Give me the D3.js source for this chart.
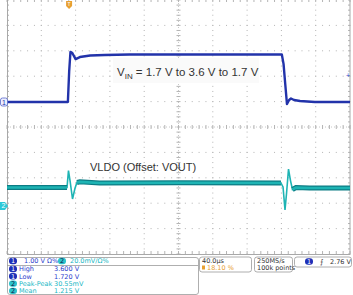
<!DOCTYPE html>
<html>
<head>
<meta charset="utf-8">
<script src="https://cdn.jsdelivr.net/npm/d3@7"></script>
<style>
body { margin: 0; background: #fff; }
text { font-family: "Liberation Sans", Arial, sans-serif; }
.small { font-family: "DejaVu Sans", sans-serif; font-size: 6.5px; }
</style>
</head>
<body>
<div></div>
<script>
// scope capture: 40 us/div, ch1 1.00 V/div, ch2 20.0 mV/div
var width = 353,
    height = 295;

// ch1 (VIN) trace: time in us, volts
var ch1Time = [0, 71, 72.5, 74, 76, 80, 85, 97, 114, 143, 320.5, 322.5, 324.5, 326.5, 329, 331.2, 334.7, 341.7, 359, 400];
var ch1Volt = [1.70, 1.70, 2.9, 3.67, 3.64, 3.39, 3.47, 3.53, 3.55, 3.57, 3.57, 3.2, 2.4, 1.62, 1.78, 1.84, 1.78, 1.74, 1.70, 1.70];

// ch2 (VLDO, ac offset) trace: time in us, mV above ch2 marker
var ch2Time = [0, 70, 71.7, 73.5, 76.4, 79.3, 81.6, 85, 108, 200, 319.5, 321.9, 324.2, 326, 328.3, 330.6, 332.9, 337, 353, 400];
var ch2mV = [14.6, 14.6, 27.8, 20, 5.5, 14, 18.5, 19, 18.1, 18.3, 18.1, 15, -3.1, 10, 29.1, 20, 13, 14.5, 14.2, 14.2];

var trigLevel = 2.76; // V
var trigPos = 72.4;   // us (18.10 %)
var ch1Offset = 1.7, ch2Offset = 0;

var measLabels = ["High", "Low", "Peak-Peak", "Mean"];
var measValues = ["3.600 V", "1.720 V", "30.55mV", "1.215 V"];
var measChan = [1, 1, 2, 2];

var blue = "#2233aa", teal = "#1eb4b4", tealDark = "#0c7c84", grid = "#b4b4b4";

var x = d3.scaleLinear().domain([0, 400]).range([7, 350]);
var y1 = d3.scaleLinear().domain([-4.284, 5.716]).range([254, 0]);
var y2 = d3.scaleLinear().domain([-37.8, 162.2]).range([254, 0]);

var svg = d3.select("div").append("svg")
    .attr("width", width)
    .attr("height", height);

svg.append("rect").attr("width", width).attr("height", height).attr("fill", "#fff");

// graticule
var g = svg.append("g");
var divs = d3.range(0, 11);
var minor = d3.range(0, 51);
var gx = divs.map(function (i) { return x(i * 40); });
var gy = divs.map(function (i) { return 254 * i / 10; });

gx.forEach(function (px, i) {
    if (i == 0 || i == 10 || i == 5) return;
    g.selectAll(null).data(minor).enter().append("rect")
        .attr("x", px - 0.5).attr("y", function (k) { return 254 * k / 50 - 0.5; })
        .attr("width", 1).attr("height", 1).attr("fill", grid);
});
gy.forEach(function (py, i) {
    if (i == 0 || i == 10 || i == 5) return;
    g.selectAll(null).data(minor).enter().append("rect")
        .attr("x", function (k) { return 7 + 343 * k / 50 - 0.5; }).attr("y", py - 0.5)
        .attr("width", 1).attr("height", 1).attr("fill", grid);
});

// centre lines and border with minor ticks
g.append("line").attr("x1", 7).attr("x2", 350).attr("y1", 127).attr("y2", 127)
    .attr("stroke", "#c8c8c8").attr("stroke-dasharray", "1,2");
g.append("line").attr("x1", x(200)).attr("x2", x(200)).attr("y1", 0).attr("y2", 254)
    .attr("stroke", "#c8c8c8").attr("stroke-dasharray", "1,2");
minor.forEach(function (k) {
    var px = 7 + 343 * k / 50, py = 254 * k / 50;
    g.append("line").attr("x1", px).attr("x2", px).attr("y1", 125).attr("y2", 129).attr("stroke", grid);
    g.append("line").attr("x1", x(200) - 2).attr("x2", x(200) + 2).attr("y1", py).attr("y2", py).attr("stroke", grid);
    g.append("line").attr("x1", px).attr("x2", px).attr("y1", 251).attr("y2", 254).attr("stroke", grid);
    g.append("line").attr("x1", px).attr("x2", px).attr("y1", 0).attr("y2", 2).attr("stroke", grid);
    g.append("line").attr("x1", 7).attr("x2", 9).attr("y1", py).attr("y2", py).attr("stroke", grid);
    g.append("line").attr("x1", 348).attr("x2", 350).attr("y1", py).attr("y2", py).attr("stroke", grid);
});
g.append("rect").attr("x", 7.5).attr("y", -1).attr("width", 342.5).attr("height", 255.5)
    .attr("fill", "none").attr("stroke", "#a8a8a8");

// annotations
svg.append("rect").attr("x", 113).attr("y", 58).attr("width", 146).attr("height", 25).attr("fill", "#fafafa");
var vin = svg.append("text").attr("x", 117).attr("y", 76).attr("font-size", "11.5px").attr("fill", "#333");
vin.append("tspan").text("V");
vin.append("tspan").attr("dy", 3).attr("font-size", "8px").text("IN");
vin.append("tspan").attr("dy", -3).text(" = 1.7 V to 3.6 V to 1.7 V");

svg.append("text").attr("x", 90).attr("y", 171).attr("font-size", "11px").attr("fill", "#333")
    .text("VLDO (Offset: VOUT)");

// traces
var line1 = d3.line().x(function (d) { return x(d[0]); }).y(function (d) { return y1(d[1]); });
var line2 = d3.line().x(function (d) { return x(d[0]); }).y(function (d) { return y2(d[1]); });

var ch1 = ch1Time.map(function (t, i) { return [t, ch1Volt[i]]; });
var ch2 = ch2Time.map(function (t, i) { return [t, ch2mV[i]]; });

svg.append("path").datum(ch1).attr("d", line1).attr("fill", "none")
    .attr("stroke", blue).attr("stroke-width", 2.4).attr("stroke-linejoin", "round");

svg.append("path").datum(ch2).attr("d", line2).attr("fill", "none")
    .attr("stroke", teal).attr("stroke-width", 1.6);
// noise band on the flat parts
var bands = [ch2.filter(function (d) { return d[0] <= 70; }),
             ch2.filter(function (d) { return d[0] >= 81.6 && d[0] <= 319.5; }),
             ch2.filter(function (d) { return d[0] >= 332.9; })];
bands.forEach(function (b) {
    svg.append("path").datum(b).attr("d", line2).attr("fill", "none")
        .attr("stroke", tealDark).attr("stroke-width", 5);
    svg.append("path").datum(b).attr("d", line2).attr("fill", "none")
        .attr("stroke", teal).attr("stroke-width", 2.6);
});

// markers
var m1 = svg.append("g").attr("transform", "translate(0," + y1(ch1Offset) + ")");
m1.append("rect").attr("x", 0.5).attr("y", -4).attr("width", 7).attr("height", 8).attr("rx", 2)
    .attr("fill", "#eef0ff").attr("stroke", "#5566cc").attr("stroke-width", 0.8);
m1.append("text").attr("x", 4).attr("y", 3).attr("text-anchor", "middle").attr("font-size", "7px")
    .attr("fill", blue).text("1");

var m2 = svg.append("g").attr("transform", "translate(0," + y2(ch2Offset) + ")");
m2.append("path").attr("d", "M0,-4H5L8,0L5,4H0Z").attr("fill", "#2cc8d8");
m2.append("text").attr("x", 3.5).attr("y", 2.5).attr("text-anchor", "middle").attr("font-size", "7px")
    .attr("fill", "#fff").text("2");

var mt = svg.append("g").attr("transform", "translate(" + x(trigPos) + ",0)");
mt.append("path").attr("d", "M-3,1H3V6L0,9L-3,6Z").attr("fill", "#e8a030");
mt.append("text").attr("x", 0).attr("y", 6).attr("text-anchor", "middle").attr("font-size", "5px")
    .attr("fill", "#fff").text("T");

svg.append("text").attr("x", 348).attr("y", y1(trigLevel) + 2.5).attr("text-anchor", "middle")
    .attr("font-size", "7px").attr("fill", "#3344cc").text("+");

// readout panel
function box(x0, y0, w, h) {
    svg.append("rect").attr("x", x0 + 0.5).attr("y", y0 + 0.5).attr("width", w).attr("height", h)
        .attr("rx", 2.5).attr("fill", "#fff").attr("stroke", "#9a9a9a").attr("stroke-width", 0.8);
}
function pill(px, py, n) {
    svg.append("rect").attr("x", px).attr("y", py - 3.2).attr("width", 8).attr("height", 6.4).attr("rx", 3)
        .attr("fill", n == 1 ? "#1f2fb8" : "#2cc4cc");
    svg.append("text").attr("class", "small").attr("x", px + 4).attr("y", py + 2.3)
        .attr("text-anchor", "middle").attr("fill", n == 1 ? "#fff" : "#114").text(n);
}

box(7, 257, 191, 37);
svg.append("line").attr("x1", 7).attr("x2", 198).attr("y1", 265.5).attr("y2", 265.5).attr("stroke", "#9a9a9a").attr("stroke-width", 0.8);
pill(9, 261, 1);
svg.append("text").attr("class", "small").attr("x", 24).attr("y", 263.3).attr("fill", "#2a3ccc").text("1.00 V  Ω%");
pill(58, 261, 2);
svg.append("text").attr("class", "small").attr("x", 70).attr("y", 263.3).attr("fill", "#20b8c4").text("20.0mV/Ω%");

measLabels.forEach(function (lab, i) {
    var py = 269 + i * 7.3;
    pill(9, py, measChan[i]);
    var c = measChan[i] == 1 ? "#2a3ccc" : "#20b8c4";
    svg.append("text").attr("class", "small").attr("x", 19).attr("y", py + 2.3).attr("fill", c).text(lab);
    svg.append("text").attr("class", "small").attr("x", 54).attr("y", py + 2.3).attr("fill", c).text(measValues[i]);
});

box(199, 256.5, 52, 15);
svg.append("text").attr("class", "small").attr("x", 202).attr("y", 263).attr("fill", "#333").text("40.0µs");
svg.append("rect").attr("x", 202).attr("y", 265.5).attr("width", 3).attr("height", 4).attr("fill", "#e8a030");
svg.append("text").attr("class", "small").attr("x", 207).attr("y", 269.5).attr("fill", "#e8a030").text("18.10 %");

box(254, 256.5, 38, 15);
svg.append("text").attr("class", "small").attr("x", 257).attr("y", 263).attr("fill", "#333").text("250MS/s");
svg.append("text").attr("class", "small").attr("x", 257).attr("y", 269.5).attr("fill", "#333").text("100k points");

box(294, 256.5, 57, 10);
pill(305, 261.5, 1);
svg.append("text").attr("class", "small").attr("x", 320).attr("y", 264).attr("fill", "#333").text("⨍");
svg.append("text").attr("class", "small").attr("x", 330).attr("y", 264).attr("fill", "#333").text("2.76 V");
</script>
</body>
</html>
